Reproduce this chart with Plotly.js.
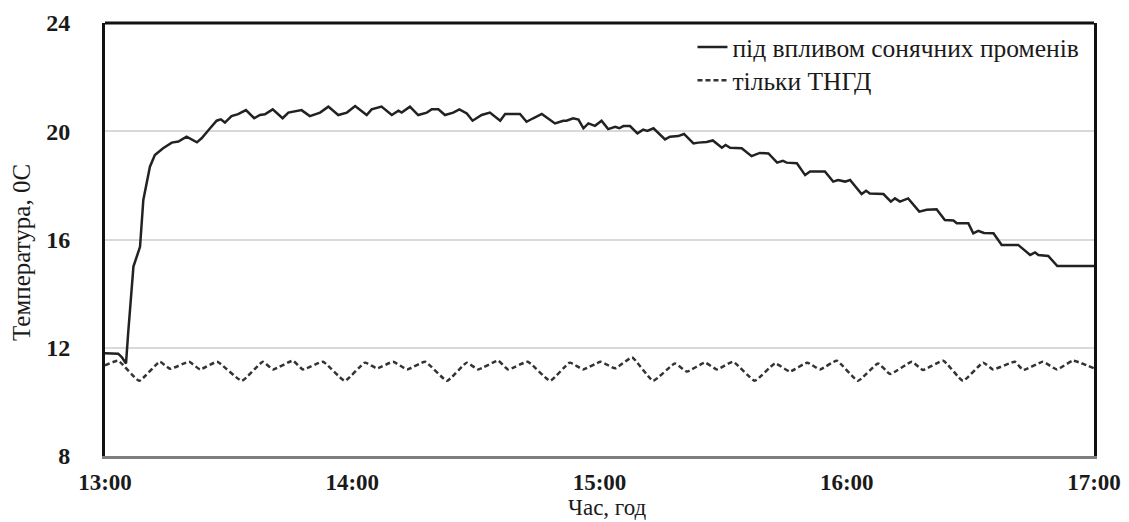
<!DOCTYPE html>
<html>
<head>
<meta charset="utf-8">
<script src="https://cdn.plot.ly/plotly-3.0.1.min.js"></script>
<style>html,body{margin:0;padding:0;background:#fff;}#chart{width:1129px;height:522px;}</style>
</head>
<body>
<div id="chart"></div>
<script>
// Time in minutes after 13:00
const sunTime = [0,2.4,3.2,4.1,5.1,5.6,6.9,8.5,9.3,10.9,12.1,14.1,16.2,17.8,19.8,22.3,23.5,25.5,27.1,28.1,29.1,30.7,32.3,34.2,36.2,37.6,38.8,40.7,43.1,44.5,47.7,49.7,52.2,54.2,56.6,58.7,60.7,63.5,64.7,67.1,69.6,71.2,72.0,74.0,76.0,78.1,79.3,80.9,82.5,84.5,86.0,87.8,89.2,91.4,93.4,95.9,97.1,100.7,102.3,103.9,106.0,109.2,111.2,112.0,113.6,114.9,116.1,117.3,118.9,120.5,122.1,123.8,124.8,125.8,127.4,129.2,130.6,131.6,133.1,135.9,137.1,139.1,140.5,142.8,144.0,146.0,147.5,149.7,150.6,151.7,154.5,156.9,158.9,161.0,163.1,164.5,165.4,167.9,169.9,171.1,174.7,176.7,177.9,179.6,180.8,183.6,184.7,185.6,188.9,190.7,191.7,192.9,194.9,197.6,199.4,201.8,203.8,205.9,206.7,209.5,210.7,211.9,213.3,215.6,217.6,221.6,224.5,225.7,226.5,228.9,231.1,240];
const sunTemp = [11.80,11.80,11.78,11.65,11.42,12.5,15.0,15.73,17.46,18.69,19.12,19.37,19.58,19.62,19.80,19.59,19.75,20.11,20.39,20.44,20.32,20.56,20.63,20.78,20.48,20.60,20.63,20.81,20.48,20.69,20.78,20.56,20.69,20.91,20.60,20.69,20.93,20.60,20.81,20.91,20.60,20.76,20.69,20.91,20.60,20.69,20.81,20.81,20.60,20.69,20.81,20.66,20.39,20.60,20.69,20.39,20.64,20.64,20.35,20.48,20.64,20.29,20.39,20.39,20.48,20.43,20.11,20.29,20.20,20.39,20.08,20.16,20.11,20.19,20.19,19.92,20.06,20.01,20.11,19.70,19.80,19.82,19.90,19.55,19.58,19.60,19.66,19.39,19.49,19.39,19.37,19.08,19.20,19.18,18.84,18.91,18.84,18.82,18.38,18.51,18.51,18.14,18.20,18.14,18.20,17.68,17.80,17.70,17.68,17.40,17.52,17.40,17.52,17.03,17.10,17.12,16.72,16.70,16.60,16.60,16.23,16.32,16.24,16.23,15.80,15.80,15.43,15.52,15.43,15.39,15.02,15.02];

const thgdTime = [0,3.2,8.3,13.3,15.8,20.4,23.1,27.2,33.2,38.3,40.8,45.6,48.0,52.9,58.2,63.1,66.0,69.9,73.3,77.7,83.0,87.8,90.5,95.4,97.8,102.6,108.0,112.8,116.0,120.3,123.8,127.9,133.0,138.3,141.2,145.6,148.5,152.4,157.7,162.6,166.2,170.4,173.5,177.6,182.7,187.6,190.5,195.8,198.5,203.4,208.2,213.1,215.5,220.8,222.8,227.6,231.0,234.9,240];
const thgdTemp = [11.35,11.52,10.78,11.48,11.22,11.48,11.20,11.48,10.78,11.48,11.20,11.52,11.20,11.48,10.78,11.45,11.24,11.48,11.20,11.48,10.78,11.45,11.20,11.52,11.20,11.48,10.78,11.45,11.20,11.48,11.24,11.64,10.78,11.42,11.12,11.45,11.20,11.48,10.78,11.42,11.12,11.45,11.20,11.52,10.78,11.42,11.03,11.48,11.18,11.52,10.78,11.45,11.20,11.48,11.18,11.48,11.20,11.52,11.24];

const xTickVals = [0,60,120,180,240];
const xTickText = ['13:00','14:00','15:00','16:00','17:00'];
const yTickVals = [8,12,16,20,24];
const xTitle = 'Час, год';
const yTitle = 'Температура, 0С';

const serif = 'Liberation Serif';
const legendFont = {family:serif, size:25.5, color:'#1a1a1a'};

const traces = [
  {x: sunTime, y: sunTemp, type:'scatter', mode:'lines', name:'під впливом сонячних променів',
   legend:'legend', line:{color:'#222222', width:2.5}},
  {x: thgdTime, y: thgdTemp, type:'scatter', mode:'lines', name:'тільки ТНГД',
   legend:'legend2', line:{color:'#333333', width:2.5, dash:'5px,3px', shape:'spline', smoothing:0.4}}
];

const layout = {
  width:1129, height:522,
  margin:{l:105, r:35, t:23, b:66},
  paper_bgcolor:'#ffffff', plot_bgcolor:'#ffffff',
  showlegend:true,
  font:{family:serif, color:'#1a1a1a'},
  legend:{x:0.594, xanchor:'left', y:0.998, yanchor:'top', bgcolor:'rgba(0,0,0,0)', font:legendFont},
  legend2:{x:0.594, xanchor:'left', y:0.921, yanchor:'top', bgcolor:'rgba(0,0,0,0)', font:legendFont},
  xaxis:{range:[0,240], tickvals:xTickVals, ticktext:xTickText, showgrid:false, zeroline:false,
         showline:true, linecolor:'#7f7f7f', linewidth:3, ticks:'', ticklabelstandoff:3,
         tickfont:{family:serif, size:23, color:'#1a1a1a', weight:'bold'}},
  yaxis:{range:[8,24], tickvals:yTickVals, showgrid:true, gridcolor:'#d9d9d9', gridwidth:2, zeroline:false,
         showline:true, linecolor:'#111111', linewidth:3, mirror:true, ticks:'', ticklabelstandoff:27,
         tickfont:{family:serif, size:24, color:'#1a1a1a', weight:'bold'}},
  annotations:[
    {text:xTitle, xref:'paper', yref:'paper', x:0.5076, y:-0.150, xanchor:'center', yanchor:'bottom',
     borderpad:0, showarrow:false, font:{family:serif, size:23, color:'#1a1a1a'}},
    {text:yTitle, xref:'paper', yref:'paper', x:-0.0839, y:0.469, xanchor:'center', yanchor:'middle',
     textangle:-90, showarrow:false, font:{family:serif, size:25, color:'#1a1a1a'}}
  ],
  shapes:[{type:'line', xref:'paper', yref:'paper', x0:0, x1:1, y0:1, y1:1, line:{color:'#111111', width:3}}]
};

Plotly.newPlot('chart', traces, layout, {displayModeBar:false, staticPlot:true});
</script>
</body>
</html>
